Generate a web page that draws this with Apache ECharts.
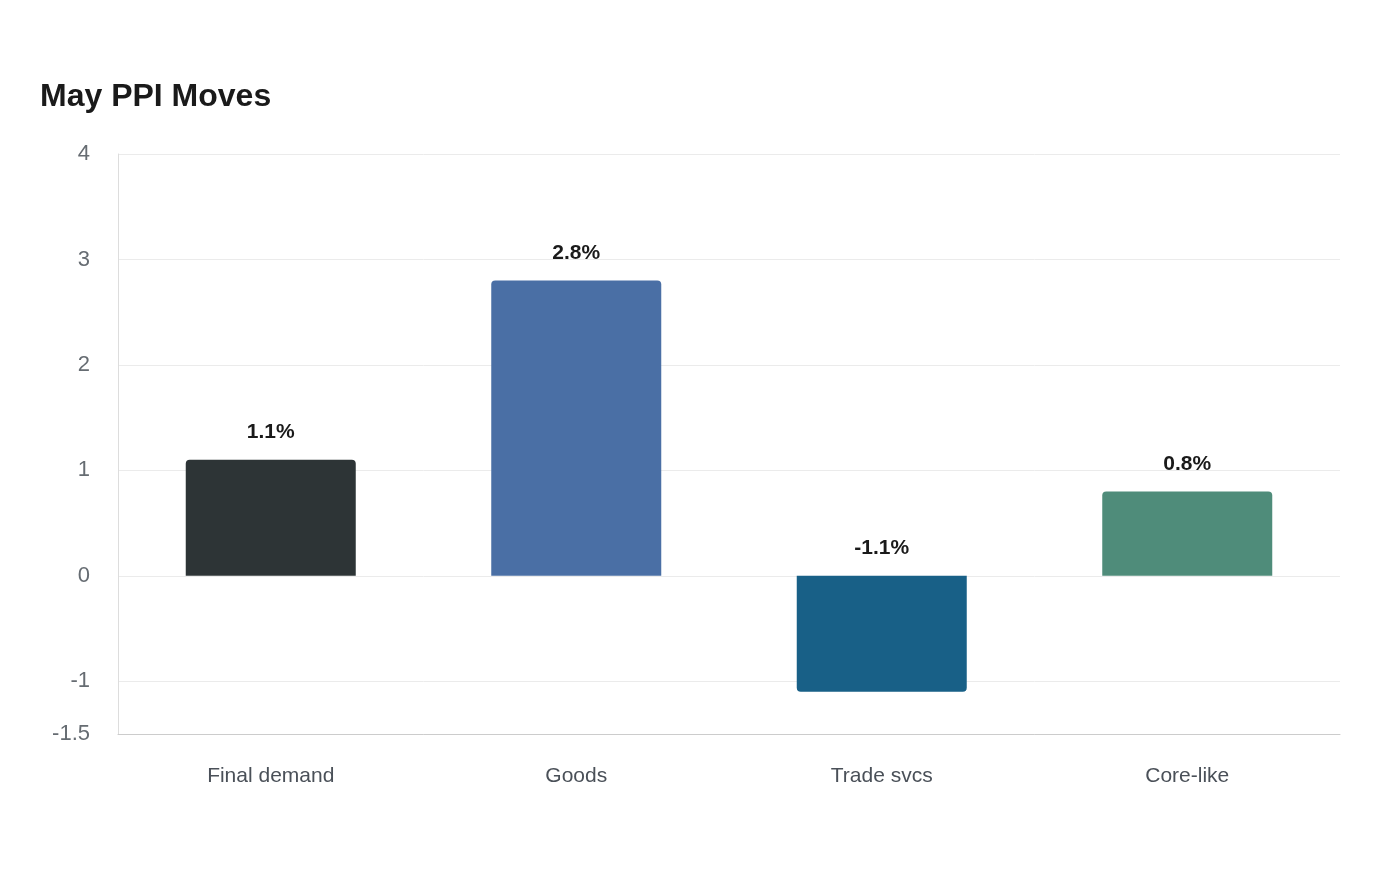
<!DOCTYPE html>
<html>
<head>
<meta charset="utf-8">
<script src="https://cdn.jsdelivr.net/npm/echarts@6/dist/echarts.min.js"></script>
<style>html,body{margin:0;padding:0;background:#fff;}#c{width:1400px;height:880px;}</style>
</head>
<body>
<div id="c"></div>
<script>
const categories = ['Final demand', 'Goods', 'Trade svcs', 'Core-like'];
const values = [1.1, 2.8, -1.1, 0.8];
const colors = ['#2d3436', '#4a6fa5', '#186087', '#4f8c7a'];

const chart = echarts.init(document.getElementById('c'), null, {renderer: 'canvas'});
chart.setOption({
  backgroundColor: '#ffffff',
  animation: false,
  textStyle: {fontFamily: '"Liberation Sans", Arial, sans-serif'},
  title: {
    text: 'May PPI Moves',
    left: 35, top: 76,
    textStyle: {fontSize: 32, fontWeight: 'bold', color: '#1a1a1a', fontFamily: '"Liberation Sans", Arial, sans-serif'}
  },
  grid: {left: 118, right: 60, top: 154, bottom: 146, containLabel: false},
  xAxis: {
    type: 'category',
    data: categories,
    axisLine: {onZero: false, lineStyle: {color: '#cccccc'}},
    axisTick: {show: false},
    axisLabel: {fontSize: 21, color: '#4a5058', margin: 32}
  },
  yAxis: {
    type: 'value',
    min: -1.5, max: 4,
    axisLine: {show: true, lineStyle: {color: '#dddddd'}},
    axisTick: {show: false},
    axisLabel: {fontSize: 22, color: '#666c72', margin: 28, padding: [5, 0, 0, 0]},
    splitLine: {lineStyle: {color: '#ebebeb'}}
  },
  series: [{
    type: 'bar',
    barWidth: 170,
    data: values.map((v, i) => ({
      value: v,
      itemStyle: {color: colors[i], borderRadius: v >= 0 ? [4, 4, 0, 0] : [0, 0, 4, 4]}
    })),
    label: {
      show: true,
      position: 'top',
      distance: 17,
      fontSize: 21,
      fontWeight: 'bold',
      color: '#1a1a1a',
      formatter: p => p.value.toFixed(1) + '%'
    }
  }]
});
</script>
</body>
</html>
